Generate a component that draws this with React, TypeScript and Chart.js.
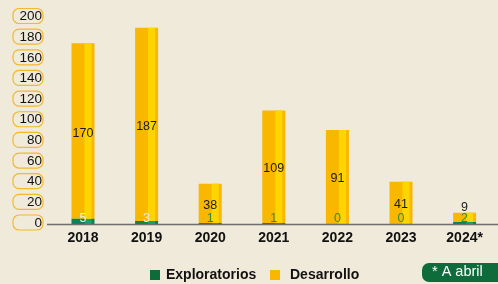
import React, { useEffect, useRef } from "react";
import { Chart, registerables } from "chart.js";

Chart.register(...registerables);

const categories = ["2018", "2019", "2020", "2021", "2022", "2023", "2024*"];
const exploratorios = [5, 3, 1, 1, 0, 0, 2];
const desarrollo = [170, 187, 38, 109, 91, 41, 9];
const yTicks = [0, 20, 40, 60, 80, 100, 120, 140, 160, 180, 200];
const legendLabels = ["Exploratorios", "Desarrollo"];
const noteText = "* A abril";

const BG = "#f0eada";
const ORANGE = "#f9b700";
const YELLOW = "#ffd500";
const GREEN = "#0a8251";
const GREEN_LIGHT = "#17a06a";
const DARK_GREEN = "#0e6b3b";

function roundRect(ctx: CanvasRenderingContext2D, x: number, y: number, w: number, h: number, r: number) {
  ctx.beginPath();
  ctx.moveTo(x + r, y);
  ctx.lineTo(x + w - r, y);
  ctx.arcTo(x + w, y, x + w, y + r, r);
  ctx.lineTo(x + w, y + h - r);
  ctx.arcTo(x + w, y + h, x + w - r, y + h, r);
  ctx.lineTo(x + r, y + h);
  ctx.arcTo(x, y + h, x, y + h - r, r);
  ctx.lineTo(x, y + r);
  ctx.arcTo(x, y, x + r, y, r);
  ctx.closePath();
}

const decorPlugin = {
  id: "decor",
  beforeDraw(chart: any) {
    const ctx = chart.ctx;
    ctx.save();
    ctx.fillStyle = BG;
    ctx.fillRect(0, 0, chart.width, chart.height);
    ctx.restore();
  },
  afterDatasetsDraw(chart: any) {
    const ctx: CanvasRenderingContext2D = chart.ctx;
    const yScale = chart.scales.y;
    const xScale = chart.scales.x;
    ctx.save();
    // highlight strips
    chart.data.datasets.forEach((ds: any, di: number) => {
      const meta = chart.getDatasetMeta(di);
      meta.data.forEach((el: any) => {
        const w = el.width;
        const left = el.x - w / 2;
        const top = Math.min(el.y, el.base);
        const h = Math.abs(el.base - el.y);
        if (h <= 0) return;
        ctx.fillStyle = di === 0 ? GREEN_LIGHT : YELLOW;
        ctx.fillRect(left + (w * 13) / 23, top, (w * 7) / 23, h);
      });
    });
    // axis line
    const y0 = yScale.getPixelForValue(0);
    ctx.strokeStyle = "#6e6e6e";
    ctx.lineWidth = 1.5;
    ctx.beginPath();
    ctx.moveTo(47, y0 + 0.5);
    ctx.lineTo(chart.width, y0 + 0.5);
    ctx.stroke();

    // y tick boxes
    ctx.font = "13.5px Arial, 'Liberation Sans', sans-serif";
    ctx.textAlign = "right";
    ctx.textBaseline = "middle";
    yTicks.forEach((t) => {
      const py = yScale.getPixelForValue(t) - 2;
      roundRect(ctx, 13, py - 7, 30, 15, 6);
      ctx.fillStyle = BG;
      ctx.fill();
      ctx.strokeStyle = "#f4b82a";
      ctx.lineWidth = 1.2;
      ctx.stroke();
      ctx.fillStyle = "#111";
      ctx.fillText(String(t), 42, py + 1);
    });

    // x labels
    ctx.font = "bold 14px Arial, 'Liberation Sans', sans-serif";
    ctx.textAlign = "center";
    ctx.fillStyle = "#111";
    categories.forEach((c, i) => {
      ctx.fillText(c, xScale.getPixelForValue(i), 238);
    });

    // value labels
    ctx.font = "12.5px Arial, 'Liberation Sans', sans-serif";
    categories.forEach((c, i) => {
      const x = xScale.getPixelForValue(i);
      const e = exploratorios[i];
      const d = desarrollo[i];
      const metaD = chart.getDatasetMeta(1).data[i];
      if (i === categories.length - 1) {
        ctx.fillStyle = "#222";
        ctx.fillText(String(d), x, metaD.y - 5);
      } else {
        ctx.fillStyle = "#1a1a1a";
        const cy = (metaD.y + metaD.base) / 2 + 2;
        ctx.fillText(String(d), x, cy);
      }
      ctx.fillStyle = e >= 3 ? "#e6efe8" : "#3a8a2a";
      ctx.fillText(String(e), x, y0 - 5);
    });

    // legend
    ctx.font = "bold 14px Arial, 'Liberation Sans', sans-serif";
    ctx.textAlign = "left";
    ctx.fillStyle = DARK_GREEN;
    ctx.fillRect(150, 270, 10, 10);
    ctx.fillStyle = "#111";
    ctx.fillText(legendLabels[0], 166, 275.5);
    ctx.fillStyle = ORANGE;
    ctx.fillRect(270, 270, 10, 10);
    ctx.fillStyle = "#111";
    ctx.fillText(legendLabels[1], 290, 275.5);

    // note badge
    roundRect(ctx, 422, 263, 82, 19, 7);
    ctx.fillStyle = DARK_GREEN;
    ctx.fill();
    ctx.fillStyle = "#ffffff";
    ctx.font = "14.5px Arial, 'Liberation Sans', sans-serif";
    ctx.fillText(noteText, 432, 272);
    ctx.restore();
  },
};

export default function App() {
  const ref = useRef<HTMLCanvasElement | null>(null);
  useEffect(() => {
    if (!ref.current) return;
    const chart = new Chart(ref.current, {
      type: "bar",
      data: {
        labels: categories,
        datasets: [
          {
            label: legendLabels[0],
            data: exploratorios,
            backgroundColor: GREEN,
            borderWidth: 0,
            barPercentage: 0.362,
            categoryPercentage: 1,
          },
          {
            label: legendLabels[1],
            data: desarrollo,
            backgroundColor: ORANGE,
            borderWidth: 0,
            barPercentage: 0.362,
            categoryPercentage: 1,
          },
        ],
      },
      options: {
        animation: false,
        responsive: false,
        maintainAspectRatio: false,
        layout: { padding: { left: 51.2, right: 1.6, top: 17.5, bottom: 60 } },
        plugins: { legend: { display: false }, tooltip: { enabled: false } },
        scales: {
          x: { stacked: true, display: false },
          y: { stacked: true, display: false, min: 0, max: 200 },
        },
      },
      plugins: [decorPlugin],
    });
    return () => chart.destroy();
  }, []);
  return (
    <div style={{ position: "fixed", left: 0, top: 0, width: 498, height: 284, background: BG }}>
      <canvas ref={ref} width={498} height={284} style={{ width: 498, height: 284, display: "block" }} />
    </div>
  );
}
